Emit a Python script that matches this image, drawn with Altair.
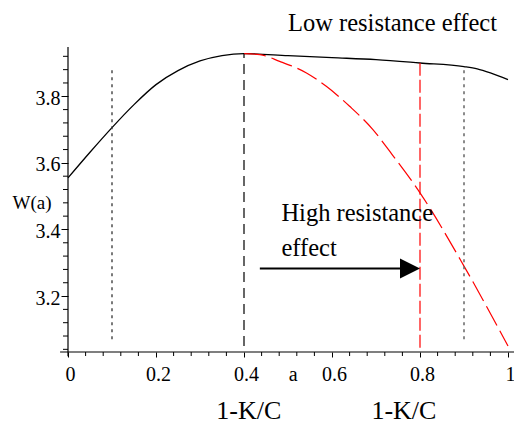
import altair as alt
import pandas as pd

# ---- data ----
a_black = [0, 0.05, 0.1, 0.15, 0.2, 0.25, 0.3, 0.35, 0.4, 0.5, 0.6, 0.7, 0.8, 0.9, 0.93, 0.96, 1.0]
w_black = [3.555, 3.632, 3.706, 3.775, 3.835, 3.877, 3.906, 3.922, 3.928, 3.922, 3.916, 3.910, 3.900, 3.889, 3.882, 3.870, 3.850]

a_red = [0.4, 0.436, 0.481, 0.542, 0.587, 0.640, 0.693, 0.731, 0.8, 0.9, 1.0]
w_red = [3.928, 3.925, 3.905, 3.870, 3.830, 3.770, 3.700, 3.635, 3.510, 3.290, 3.050]

x_major = [0, 0.2, 0.4, 0.6, 0.8, 1]
y_major = [3.2, 3.4, 3.6, 3.8]
x_minor = [0.04, 0.08, 0.12, 0.16, 0.24, 0.28, 0.32, 0.36, 0.44, 0.48, 0.52, 0.56,
           0.64, 0.68, 0.72, 0.76, 0.84, 0.88, 0.92, 0.96]
y_minor = [3.04, 3.08, 3.12, 3.16, 3.24, 3.28, 3.32, 3.36, 3.44, 3.48, 3.52, 3.56,
           3.64, 3.68, 3.72, 3.76, 3.84, 3.88, 3.92]

# vertical marker lines: position, bottom, top
vl_dotted_a = [0.1]
vl_dotted_lo = [3.07]
vl_dotted_hi = [3.89]
vl_gray_a = [0.9]
vl_gray_lo = [3.07]
vl_gray_hi = [3.889]
vl_black_a = [0.4]
vl_black_lo = [3.05]
vl_black_hi = [3.928]
vl_red_a = [0.8]
vl_red_lo = [3.045]
vl_red_hi = [3.90]

arrow_a = [0.436, 0.785]
arrow_w = [3.283, 3.283]
arrow_tip_a = [0.8]
arrow_tip_w = [3.283]

# annotations (text, a, W, size)
ann_text = ["Low resistance effect", "High resistance", "effect", "W(a)", "a", "1-K/C", "1-K/C"]
ann_a = [0.50, 0.485, 0.485, -0.126, 0.5016, 0.337, 0.6895]
ann_w = [3.997, 3.425, 3.32, 3.46, 2.944, 2.83, 2.83]
ann_size = [24.5, 24.5, 24.5, 19, 20, 26, 26]

X_DOM = [0, 1]
Y_DOM = [3.032, 3.948]
FONT = "Liberation Serif"

xs = alt.Scale(domain=X_DOM, nice=False, zero=False)
ys = alt.Scale(domain=Y_DOM, nice=False, zero=False)

black_df = pd.DataFrame({"a": a_black, "w": w_black})
red_df = pd.DataFrame({"a": a_red, "w": w_red})

xaxis = alt.Axis(values=x_major, format="~g", title=None, domain=False, grid=False,
                 tickSize=5, tickColor="black", labelColor="black", labelFont=FONT,
                 labelFontSize=20, labelPadding=7, labelFlush=False, labelOffset=2)
yaxis = alt.Axis(values=y_major, format="~g", title=None, domain=False, grid=False,
                 tickSize=7, tickColor="black", labelColor="black", labelFont=FONT,
                 labelFontSize=20, labelPadding=1, labelOffset=2)

X = lambda f: alt.X(f, scale=xs)
Y = lambda f: alt.Y(f, scale=ys)

black_line = alt.Chart(black_df).mark_line(color="black", strokeWidth=1.3, interpolate="monotone").encode(
    x=alt.X("a:Q", scale=xs, axis=xaxis),
    y=alt.Y("w:Q", scale=ys, axis=yaxis),
)

red_line = alt.Chart(red_df).mark_line(color="#ff0000", strokeWidth=1.2, strokeDash=[22, 6],
                                       interpolate="monotone").encode(
    x=X("a:Q"), y=Y("w:Q"),
)


def vline(a, lo, hi, color, dash, width):
    df = pd.DataFrame({"a": a, "lo": lo, "hi": hi})
    return alt.Chart(df).mark_rule(color=color, strokeDash=dash, strokeWidth=width).encode(
        x=X("a:Q"), y=Y("lo:Q"), y2="hi:Q",
    )


v1 = vline(vl_dotted_a, vl_dotted_lo, vl_dotted_hi, "#333333", [3, 4], 1.3)
v2 = vline(vl_gray_a, vl_gray_lo, vl_gray_hi, "#666666", [3, 4], 1.5)
v3 = vline(vl_black_a, vl_black_lo, vl_black_hi, "black", [10, 6], 1.2)
v4 = vline(vl_red_a, vl_red_lo, vl_red_hi, "#ff0000", [13, 4], 1.2)

# axis lines
xaxis_line = alt.Chart(pd.DataFrame({"a": [-0.018], "a2": [1.015], "w": [Y_DOM[0]]})).mark_rule(
    color="black", strokeWidth=1.2).encode(x=X("a:Q"), x2="a2:Q", y=Y("w:Q"))
yaxis_line = alt.Chart(pd.DataFrame({"a": [0], "w": [3.019], "w2": [Y_DOM[1]]})).mark_rule(
    color="black", strokeWidth=1.2).encode(x=X("a:Q"), y=Y("w:Q"), y2="w2:Q")

# minor ticks
xminor = alt.Chart(pd.DataFrame({"a": x_minor})).mark_rule(color="black", strokeWidth=1).encode(
    x=X("a:Q"), y=alt.value(305), y2=alt.value(309))
yminor = alt.Chart(pd.DataFrame({"w": y_minor})).mark_rule(color="black", strokeWidth=1).encode(
    y=Y("w:Q"), x=alt.value(0), x2=alt.value(-5))

# arrow
arrow_line = alt.Chart(pd.DataFrame({"a": arrow_a, "w": arrow_w})).mark_line(
    color="black", strokeWidth=2).encode(x=X("a:Q"), y=Y("w:Q"))
arrow_head = alt.Chart(pd.DataFrame({"a": arrow_tip_a, "w": arrow_tip_w})).mark_point(
    shape="M-1,-1L1,0L-1,1Z", filled=True, size=400, color="black", opacity=1, xOffset=-10,
    strokeWidth=0).encode(x=X("a:Q"), y=Y("w:Q"))

ann_df = pd.DataFrame({"t": ann_text, "a": ann_a, "w": ann_w, "s": ann_size})
texts = alt.Chart(ann_df).mark_text(align="left", baseline="alphabetic", font=FONT,
                                    color="black").encode(
    x=X("a:Q"), y=Y("w:Q"),
    text="t:N",
    size=alt.Size("s:Q", scale=None, legend=None),
)

chart = alt.layer(
    black_line, red_line, v1, v2, v3, v4, xaxis_line, yaxis_line, xminor, yminor,
    arrow_line, arrow_head, texts,
).properties(
    width=440, height=305,
    autosize=alt.AutoSizeParams(type="none"),
    padding={"left": 60, "top": 39, "right": 6, "bottom": 75},
).configure_view(stroke=None)

chart.save("out.html", embed_options={"renderer": "svg", "actions": False})
